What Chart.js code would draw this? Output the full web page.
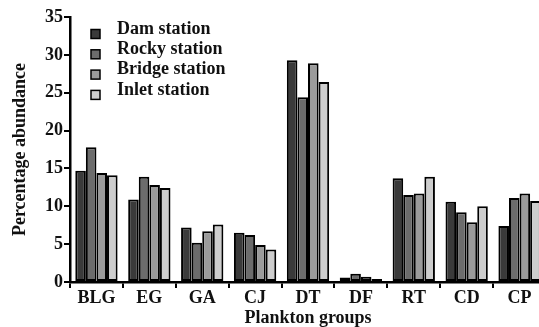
<!DOCTYPE html>
<html>
<head>
<meta charset="utf-8">
<script src="https://cdn.jsdelivr.net/npm/chart.js@4/dist/chart.umd.min.js"></script>
<style>
  html, body { margin: 0; padding: 0; background: #fff; overflow: hidden; }
  #wrap { width: 550px; height: 327px; }
</style>
</head>
<body>
<div id="wrap"><canvas id="chart" width="550" height="327"></canvas></div>
<script>
const groups = ['BLG', 'EG', 'GA', 'CJ', 'DT', 'DF', 'RT', 'CD', 'CP'];
const stations = ['Dam station', 'Rocky station', 'Bridge station', 'Inlet station'];
const damValues = [14.7, 10.9, 7.2, 6.5, 29.3, 0.6, 13.7, 10.6, 7.4];
const rockyValues = [17.8, 13.9, 5.2, 6.2, 24.4, 1.1, 11.5, 9.2, 11.1];
const bridgeValues = [14.4, 12.8, 6.7, 4.9, 28.9, 0.7, 11.7, 7.9, 11.7];
const inletValues = [14.1, 12.4, 7.6, 4.3, 26.4, 0.4, 13.9, 10.0, 10.7];
const yMax = 35;
const yStep = 5;

const colors = ['#3a3a3a', '#6c6c6c', '#9b9b9b', '#cdcdcd'];
const serif = '"Liberation Serif", "Times New Roman", serif';

// legend drawn inside the plot, top-left
const insideLegend = {
    id: 'insideLegend',
    afterDraw(chart) {
        const ctx = chart.ctx;
        const x0 = chart.chartArea.left + 21;
        let y = chart.chartArea.top + 17;
        ctx.save();
        ctx.font = 'bold 18px ' + serif;
        ctx.textBaseline = 'middle';
        chart.data.datasets.forEach((ds) => {
            ctx.fillStyle = ds.backgroundColor;
            ctx.fillRect(x0, y - 4.5, 9, 9);
            ctx.strokeStyle = '#000';
            ctx.lineWidth = 1.5;
            ctx.strokeRect(x0, y - 4.5, 9, 9);
            ctx.fillStyle = '#111';
            ctx.fillText(ds.label, x0 + 26, y - 5);
            y += 20.3;
        });
        ctx.restore();
    }
};

const values = [damValues, rockyValues, bridgeValues, inletValues];

new Chart(document.getElementById('chart'), {
    type: 'bar',
    data: {
        labels: groups,
        datasets: stations.map((name, i) => ({
            label: name,
            data: values[i],
            backgroundColor: colors[i],
            borderColor: '#000',
            borderWidth: 2,
            borderSkipped: false,
            categoryPercentage: 0.8,
            barPercentage: 1.0,
        })),
    },
    options: {
        responsive: false,
        animation: false,
        layout: { padding: { top: 17, right: 4, left: 0, bottom: 0 } },
        plugins: {
            legend: { display: false },
            tooltip: { enabled: false },
        },
        scales: {
            x: {
                afterFit: (axis) => { axis.height = 45; },
                grid: { display: true, drawOnChartArea: false, drawTicks: true, color: '#000', lineWidth: 2, tickLength: 6, offset: true },
                border: { display: true, color: '#000', width: 2.5 },
                ticks: { color: '#111', font: { family: serif, size: 18, weight: 'bold', lineHeight: 1 }, padding: 1 },
                title: { display: true, text: 'Plankton groups', color: '#111', font: { family: serif, size: 18, weight: 'bold', lineHeight: 1 }, padding: { top: 0, bottom: 0 } },
            },
            y: {
                min: 0,
                max: yMax,
                afterFit: (axis) => { axis.width = 70; },
                grid: { display: true, drawOnChartArea: false, drawTicks: true, color: '#000', lineWidth: 2, tickLength: 6 },
                border: { display: true, color: '#000', width: 2.5 },
                ticks: { stepSize: yStep, color: '#111', font: { family: serif, size: 18, weight: 'bold', lineHeight: 1 }, padding: 1 },
                title: { display: true, text: 'Percentage abundance', color: '#111', font: { family: serif, size: 18, weight: 'bold', lineHeight: 1 }, padding: { top: 11, bottom: 0 } },
            },
        },
    },
    plugins: [insideLegend],
});
</script>
</body>
</html>
